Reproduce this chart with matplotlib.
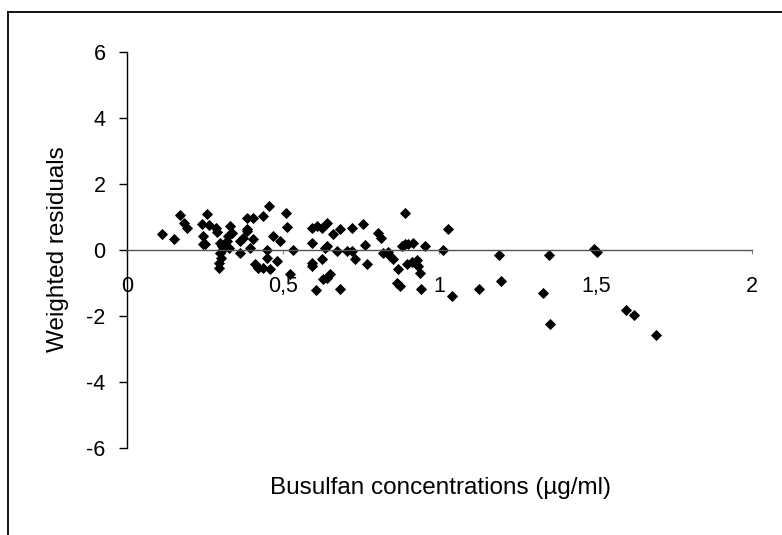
import matplotlib
matplotlib.use('Agg')
import matplotlib.pyplot as plt
from matplotlib.lines import Line2D

plt.rcParams['font.family'] = ['Liberation Sans', 'DejaVu Sans']
plt.rcParams['axes.unicode_minus'] = False

# busulfan concentration (ug/ml) and weighted residual
conc = [0.112, 0.150, 0.170, 0.182, 0.192, 0.256, 0.240, 0.262, 0.285, 0.288,
        0.243, 0.243, 0.250, 0.298, 0.304, 0.298, 0.301, 0.294, 0.294, 0.330,
        0.336, 0.323, 0.320, 0.314, 0.307, 0.326, 0.362, 0.362, 0.384, 0.384,
        0.371,
        0.454, 0.435, 0.403, 0.509, 0.512, 0.384, 0.403, 0.394, 0.467,
        0.490, 0.531, 0.448, 0.448, 0.480, 0.410, 0.419, 0.435, 0.458, 0.522,
        0.592, 0.608, 0.624, 0.640, 0.659, 0.682, 0.592, 0.634, 0.640, 0.672,
        0.704, 0.592, 0.624, 0.592, 0.650, 0.640, 0.627, 0.605, 0.682,
        0.890, 0.720, 0.755, 0.803, 0.813, 1.027, 0.762, 0.720, 0.730, 0.768,
        0.819, 0.835, 0.842, 0.851, 0.867, 0.880, 0.890, 0.899, 0.915, 0.954,
        1.011, 0.896, 0.912, 0.928, 0.931, 0.938, 0.864, 0.874, 0.941, 1.040,
        1.126, 1.190, 1.197, 1.331, 1.350, 1.354, 1.494, 1.504, 1.597, 1.622,
        1.693]
resid = [0.48, 0.33, 1.06, 0.82, 0.67, 1.09, 0.79, 0.76, 0.67, 0.55,
         0.42, 0.18, 0.18, 0.21, 0.12, -0.09, -0.24, -0.39, -0.55, 0.73,
         0.52, 0.42, 0.27, 0.18, 0.03, 0.06, 0.27, -0.09, 0.97, 0.58,
         0.36,
         1.33, 1.03, 0.97, 1.12, 0.70, 0.64, 0.33, 0.06, 0.42,
         0.27, 0.00, 0.00, -0.24, -0.33, -0.42, -0.55, -0.55, -0.58, -0.73,
         0.67, 0.73, 0.67, 0.82, 0.48, 0.64, 0.21, 0.06, 0.12, -0.03,
         -0.03, -0.39, -0.27, -0.48, -0.73, -0.85, -0.88, -1.21, -1.18,
         1.12, 0.67, 0.79, 0.52, 0.36, 0.64, 0.15, -0.03, -0.27, -0.42,
         -0.09, -0.06, -0.18, -0.27, -0.58, 0.12, 0.18, 0.18, 0.21, 0.12,
         0.00, -0.42, -0.36, -0.30, -0.48, -0.70, -1.00, -1.09, -1.18, -1.39,
         -1.18, -0.15, -0.94, -1.30, -0.15, -2.24, 0.03, -0.06, -1.82, -1.97,
         -2.58]

xticks = [0, 0.5, 1, 1.5, 2]
xticklabels = ['0', '0,5', '1', '1,5', '2']
yticks = [-6, -4, -2, 0, 2, 4, 6]

fig = plt.figure(figsize=(7.82, 5.35), dpi=100)
ax = fig.add_axes([0.1624, 0.1626, 0.7992, 0.7402])

ax.plot(conc, resid, linestyle='none', marker='D', markersize=4.8,
        color='black', markeredgewidth=0.6)

ax.set_xlim(0, 2)
ax.set_ylim(-6, 6)
ax.set_xticks(xticks)
ax.set_xticklabels(xticklabels)
ax.set_yticks(yticks)

ax.spines['top'].set_visible(False)
ax.spines['right'].set_visible(False)
ax.spines['bottom'].set_position(('data', 0))
ax.spines['bottom'].set_color('#555555')
ax.spines['bottom'].set_linewidth(1.0)
ax.spines['left'].set_linewidth(1.0)

ax.tick_params(axis='y', direction='out', length=5.5, width=1, labelsize=15.5, pad=10)
ax.tick_params(axis='x', direction='out', length=3, width=0.8, color='#888888',
               labelsize=15.5, pad=16)

fig.text(0.074, 1 - 249 / 535, 'Weighted residuals', fontsize=17.5,
         rotation=90, ha='center', va='center')
fig.text(0.563, 0.088, 'Busulfan concentrations (\u00b5g/ml)', fontsize=17.5,
         ha='center', va='center')

# border around the chart (only left and top edges visible)
fig.add_artist(Line2D([0.0096, 0.0096], [0, 0.978], transform=fig.transFigure,
                      color='black', linewidth=1.3))
fig.add_artist(Line2D([0.0096, 1], [0.978, 0.978], transform=fig.transFigure,
                      color='black', linewidth=1.3))

fig.savefig('out.png', dpi=100)
